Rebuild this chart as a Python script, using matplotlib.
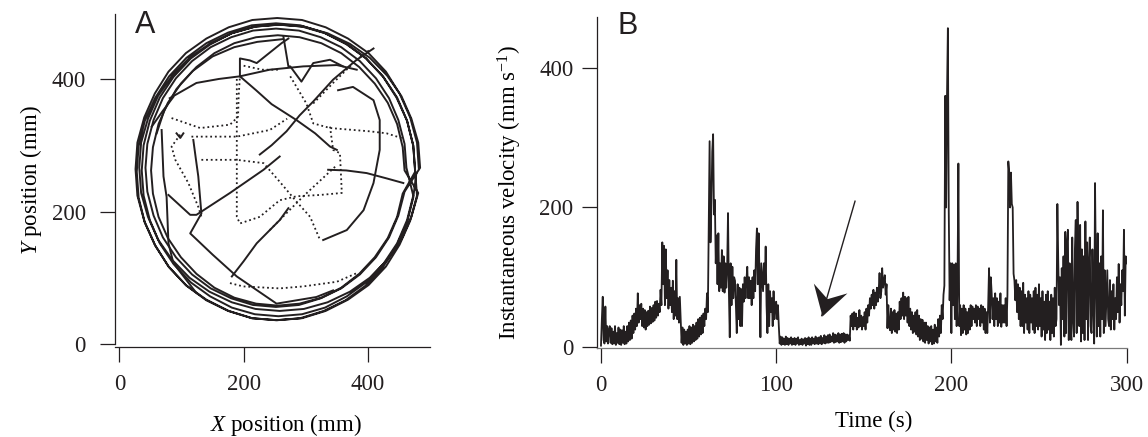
import numpy as np
import matplotlib
matplotlib.use("Agg")
import matplotlib.pyplot as plt
from matplotlib.path import Path
from matplotlib.markers import MarkerStyle
from matplotlib.transforms import Affine2D

plt.rcParams['font.family'] = 'Liberation Serif'
plt.rcParams['mathtext.fontset'] = 'custom'
plt.rcParams['mathtext.rm'] = 'Liberation Serif'
plt.rcParams['mathtext.it'] = 'Liberation Serif:italic'

INK = '#231f20'

# ---- panel A: X/Y position of the animal in the arena (mm) ----
# laps along the wall, one after the other
wall_track = [
    (482, 264), (479, 304), (468, 342), (451, 378), (429, 411), (401, 439),
    (368, 461), (332, 478), (294, 489), (254, 492), (214, 489), (176, 478),
    (140, 461), (107, 439), (79, 411), (57, 378), (40, 342), (29, 304),
    (26, 264), (29, 224), (40, 186), (57, 150), (79, 117), (107, 89),
    (140, 67), (176, 50), (214, 39), (254, 36), (294, 39), (332, 50),
    (368, 67), (401, 89), (429, 117), (451, 150), (468, 186), (479, 224),
    (476, 262), (473, 300), (463, 337), (447, 372), (425, 403), (397, 431),
    (366, 452), (331, 469), (294, 479), (256, 482), (218, 479), (181, 469),
    (146, 452), (115, 431), (87, 403), (65, 372), (49, 337), (39, 300),
    (36, 262), (39, 224), (49, 187), (65, 152), (87, 121), (115, 93),
    (146, 72), (181, 55), (218, 45), (256, 42), (294, 45), (331, 55),
    (366, 72), (397, 93), (425, 121), (447, 152), (463, 187), (473, 224),
    (462, 266), (459, 302), (449, 338), (434, 371), (413, 401), (387, 427),
    (357, 448), (324, 463), (289, 473), (252, 476), (215, 473), (180, 463),
    (147, 448), (117, 427), (91, 401), (70, 371), (55, 338), (45, 302),
    (42, 266), (45, 230), (55, 194), (70, 161), (91, 131), (117, 105),
    (147, 84), (180, 69), (215, 59), (252, 56), (289, 59), (324, 69),
    (357, 84), (387, 105), (413, 131), (434, 161), (449, 194), (459, 230),
    (484, 266), (481, 304), (470, 340), (454, 374), (431, 405), (403, 432),
    (371, 453), (335, 469), (297, 479), (258, 482), (219, 479), (181, 469),
    (145, 453), (113, 432), (85, 405), (62, 374), (46, 340), (35, 304),
    (32, 266), (35, 228), (46, 192), (62, 158), (85, 127), (113, 100),
    (145, 79), (181, 63), (219, 53), (258, 50), (297, 53), (335, 63),
    (371, 79), (403, 100), (431, 127), (454, 158), (470, 192), (481, 228),
    (459, 262), (456, 297), (447, 332), (432, 364), (411, 393), (386, 418),
    (357, 439), (325, 454), (290, 463), (255, 466), (220, 463), (185, 454),
    (153, 439), (124, 418), (99, 393), (78, 364), (63, 332), (54, 297),
    (51, 262), (54, 227), (63, 192), (78, 160), (99, 131), (124, 106),
    (153, 85), (185, 70), (220, 61), (255, 58), (290, 61), (325, 70),
    (357, 85), (386, 106), (411, 131), (432, 160), (447, 192), (456, 227),
    (476, 260), (473, 299), (463, 337), (446, 372), (424, 404), (396, 432),
    (364, 454), (329, 470), (291, 481), (252, 484), (213, 481), (175, 470),
    (140, 454), (108, 432), (80, 404), (58, 372), (41, 337), (31, 299),
    (28, 260), (31, 221), (41, 183), (58, 148), (80, 116), (108, 88),
    (140, 66), (175, 50), (213, 39), (252, 36), (291, 39), (329, 50),
    (364, 66), (396, 88), (424, 116), (446, 148), (463, 183), (473, 221),
    (478, 258),
]
inner_arc = [(60, 318), (72, 352), (92, 385), (118, 412), (150, 434),
             (185, 448), (222, 456), (262, 460)]

# solid crossings through the open field
cross_1 = [(81, 371), (124, 394), (160, 400), (194, 404), (242, 414), (296, 419),
           (350, 421), (382, 414)]
cross_2 = [(194, 404), (220, 383), (245, 362), (285, 338), (315, 318), (339, 298), (350, 293)]
cross_3 = [(194, 404), (194, 431), (210, 428), (221, 424), (261, 454), (272, 461)]
cross_4 = [(119, 308), (123, 280), (127, 253), (132, 197), (114, 167), (150, 135),
           (189, 102), (253, 61), (317, 71), (344, 81)]
cross_5 = [(79, 225), (114, 195), (124, 195), (178, 228), (232, 263), (258, 283)]
cross_6 = [(226, 286), (245, 300), (269, 321), (290, 345), (312, 366), (344, 399),
           (382, 429), (409, 446)]
cross_7 = [(181, 102), (200, 125), (221, 152), (258, 187), (272, 205)]
cross_8 = [(68, 323), (71, 253), (76, 222), (79, 152), (87, 122), (124, 77)]
cross_9 = [(92, 318), (98, 311), (103, 318)]
cross_10 = [(52, 328), (70, 352), (87, 373)]
cross_11 = [(264, 464), (272, 419), (275, 419), (293, 396), (312, 424), (339, 429), (360, 419)]
cross_12 = [(352, 383), (376, 388), (409, 368), (419, 338), (419, 293), (409, 243),
            (393, 202), (366, 172), (328, 157)]
cross_13 = [(336, 263), (365, 262), (398, 258), (430, 250), (457, 243)]

# slow phase, drawn dotted
slow_1 = [(84, 341), (130, 326), (178, 331), (191, 343), (192, 375), (194, 404)]
slow_2 = [(98, 316), (84, 298), (90, 278), (111, 243), (127, 207), (132, 192)]
slow_3 = [(116, 313), (189, 313), (242, 323), (270, 340)]
slow_4 = [(132, 278), (189, 278), (232, 273), (258, 245), (285, 215), (307, 192), (323, 157)]
slow_5 = [(189, 400), (189, 300), (189, 192), (194, 182), (226, 192), (258, 217),
          (285, 223), (323, 225), (358, 228), (355, 288), (344, 293), (339, 328)]
slow_6 = [(275, 404), (301, 363), (312, 333), (339, 326), (403, 321), (430, 318), (457, 310)]
slow_7 = [(242, 172), (296, 223), (350, 270)]
slow_8 = [(312, 363), (345, 395), (382, 429), (403, 444)]
slow_9 = [(178, 92), (199, 87), (258, 84), (296, 87), (350, 94), (382, 107)]
slow_10 = [(200, 420), (230, 414), (258, 414)]

solid_paths = [wall_track, inner_arc, cross_1, cross_2, cross_3, cross_4, cross_5,
               cross_6, cross_7, cross_8, cross_9, cross_10, cross_11, cross_12, cross_13]
dotted_paths = [slow_1, slow_2, slow_3, slow_4, slow_5, slow_6, slow_7, slow_8,
                slow_9, slow_10]

# ---- panel B: instantaneous velocity (mm/s), one reading every 0.5 s ----
velocity = [
    2, 40, 72, 10, 5, 58, 8, 30, 5, 25,
    30, 6, 27, 4, 22, 5, 30, 3, 20, 6,
    28, 4, 25, 3, 24, 6, 30, 4, 22, 5,
    30, 8, 35, 10, 38, 12, 45, 20, 48, 25,
    55, 30, 77, 35, 60, 40, 62, 30, 55, 28,
    53, 25, 50, 30, 52, 32, 58, 34, 56, 36,
    60, 38, 65, 42, 66, 45, 62, 50, 82, 60,
    150, 90, 145, 60, 140, 70, 110, 55, 96, 60,
    85, 50, 95, 40, 80, 45, 125, 40, 70, 35,
    72, 40, 6, 28, 3, 25, 5, 22, 3, 25,
    5, 30, 4, 28, 6, 32, 8, 30, 10, 35,
    12, 40, 15, 42, 18, 45, 20, 48, 30, 55,
    40, 77, 50, 170, 295, 150, 200, 280, 305, 190,
    211, 120, 160, 90, 163, 80, 120, 85, 139, 80,
    130, 78, 120, 85, 110, 192, 80, 14, 120, 60,
    115, 70, 100, 95, 60, 20, 90, 40, 85, 30,
    83, 30, 90, 65, 100, 70, 95, 115, 70, 100,
    70, 95, 60, 100, 70, 110, 80, 140, 170, 90,
    163, 100, 14, 120, 100, 80, 120, 90, 144, 60,
    20, 90, 30, 80, 50, 70, 30, 80, 40, 60,
    65, 40, 60, 30, 5, 15, 3, 14, 4, 12,
    3, 15, 4, 13, 3, 12, 5, 14, 3, 12,
    4, 13, 3, 12, 5, 14, 3, 10, 4, 12,
    3, 11, 5, 13, 2, 12, 4, 14, 3, 12,
    3, 14, 5, 12, 4, 15, 5, 13, 4, 14,
    5, 16, 4, 13, 6, 17, 5, 15, 6, 17,
    6, 18, 7, 15, 8, 20, 6, 18, 7, 17,
    8, 20, 6, 18, 7, 19, 8, 20, 6, 18,
    8, 18, 10, 17, 9, 45, 30, 48, 25, 50,
    30, 48, 25, 42, 28, 53, 30, 45, 25, 43,
    30, 50, 25, 55, 35, 60, 45, 70, 55, 75,
    60, 82, 55, 78, 60, 85, 65, 80, 106, 70,
    80, 113, 85, 95, 103, 75, 90, 27, 60, 30,
    24, 55, 20, 50, 25, 53, 22, 48, 20, 50,
    25, 65, 40, 70, 45, 78, 40, 72, 45, 70,
    35, 72, 30, 55, 25, 50, 20, 45, 22, 50,
    18, 53, 15, 45, 10, 40, 12, 39, 8, 35,
    6, 35, 10, 30, 5, 28, 8, 30, 4, 25,
    5, 32, 8, 28, 6, 40, 15, 45, 20, 60,
    40, 75, 88, 360, 200, 360, 457, 196, 67, 120,
    20, 120, 60, 118, 40, 120, 30, 90, 263, 30,
    60, 17, 55, 20, 60, 25, 55, 18, 50, 20,
    55, 25, 60, 30, 58, 40, 55, 35, 60, 30,
    58, 40, 55, 30, 60, 35, 58, 25, 55, 20,
    50, 20, 60, 113, 35, 100, 77, 40, 70, 30,
    77, 40, 70, 30, 65, 35, 77, 29, 60, 35,
    60, 35, 70, 30, 75, 266, 250, 200, 250, 205,
    200, 105, 95, 67, 96, 50, 90, 40, 85, 30,
    80, 30, 92, 20, 75, 35, 70, 25, 80, 20,
    75, 35, 70, 25, 80, 20, 85, 30, 75, 25,
    90, 30, 70, 15, 80, 25, 65, 10, 75, 20,
    80, 25, 65, 10, 75, 20, 70, 15, 85, 30,
    40, 205, 122, 60, 100, 3, 113, 40, 130, 15,
    165, 20, 150, 168, 10, 120, 30, 10, 157, 40,
    15, 140, 182, 20, 208, 100, 30, 175, 8, 140,
    20, 130, 10, 180, 40, 150, 10, 120, 157, 30,
    20, 140, 60, 5, 235, 100, 15, 163, 30, 120,
    15, 130, 40, 196, 20, 110, 30, 72, 110, 40,
    30, 96, 25, 80, 40, 90, 25, 70, 40, 100,
    50, 119, 35, 90, 60, 110, 80, 168, 45, 130,
    120,
]
time_s = np.arange(len(velocity)) * 0.5
arrow_tail = (145, 209)
arrow_head = (126, 45)

fig = plt.figure(figsize=(11.48, 4.37), dpi=100)

# ---------------- A ----------------
ax1 = fig.add_axes([0.1002, 0.2066, 0.2744, 0.7613])
for seg in solid_paths:
    xy = np.array(seg).T
    ax1.plot(xy[0], xy[1], color=INK, lw=1.4, solid_joinstyle='round')
for seg in dotted_paths:
    xy = np.array(seg).T
    ax1.plot(xy[0], xy[1], color=INK, lw=1.3, linestyle=(0, (1, 1.6)))
ax1.set_xlim(-7, 500)
ax1.set_ylim(-4, 498)
ax1.set_xticks([0, 200, 400])
ax1.set_yticks([0, 200, 400])
ax1.spines['left'].set_bounds(0, 498)
ax1.set_xlabel('$X$ position (mm)', fontsize=16.5)
ax1.set_ylabel('$Y$ position (mm)', fontsize=16.5)
ax1.xaxis.set_label_coords(0.543, -0.196)
ax1.yaxis.set_label_coords(-0.227, 0.5)

# ---------------- B ----------------
ax2 = fig.add_axes([0.52, 0.2043, 0.4621, 0.7568])
ax2.plot(time_s, velocity, color=INK, lw=1.3)
ax2.set_xlim(-2.3, 300.5)
ax2.set_ylim(-1, 473)
ax2.set_xticks([0, 100, 200, 300])
ax2.set_yticks([0, 200, 400])
ax2.spines['bottom'].set_color('#7a7a7a')
ax2.set_xlabel('Time (s)', fontsize=16.5)
ax2.set_ylabel('Instantaneous velocity (mm s$^{-1}$)', fontsize=16.5)
ax2.xaxis.set_label_coords(0.522, -0.19)
ax2.yaxis.set_label_coords(-0.138, 0.47)

# arrow marking the slow phase, with a swept-back (stealth) head
p0 = ax2.transData.transform(arrow_tail)
p1 = ax2.transData.transform(arrow_head)
angle = np.degrees(np.arctan2(p1[1] - p0[1], p1[0] - p0[0]))
stealth = Path([(0, 0), (-1, 0.6), (-0.62, 0), (-1, -0.6), (0, 0)],
               [Path.MOVETO, Path.LINETO, Path.LINETO, Path.LINETO, Path.CLOSEPOLY])
ax2.plot([arrow_tail[0], arrow_head[0]], [arrow_tail[1], arrow_head[1]],
         color=INK, lw=1.0)
ax2.plot([arrow_head[0]], [arrow_head[1]], linestyle='none', color=INK,
         marker=MarkerStyle(stealth, transform=Affine2D().rotate_deg(angle)),
         markersize=42, markeredgewidth=0)

for ax in (ax1, ax2):
    for side in ('top', 'right'):
        ax.spines[side].set_visible(False)
    ax.spines['left'].set_color(INK)
    ax.spines['left'].set_linewidth(0.9)
    ax.spines['bottom'].set_linewidth(0.9)
    ax.tick_params(direction='out', length=11, width=0.9, labelsize=16.5,
                   color=INK, labelcolor=INK)
ax1.spines['bottom'].set_color(INK)
ax1.tick_params(axis='y', pad=10)
ax1.tick_params(axis='x', pad=9)
ax2.tick_params(axis='y', pad=6)
ax2.tick_params(axis='x', pad=9)

fig.text(135 / 1148, 1 - 33 / 437, 'A', fontsize=22, family='Liberation Sans',
         color=INK, va='baseline')
fig.text(618 / 1148, 1 - 34 / 437, 'B', fontsize=22, family='Liberation Sans',
         color=INK, va='baseline')

fig.savefig('out.png', dpi=100)
